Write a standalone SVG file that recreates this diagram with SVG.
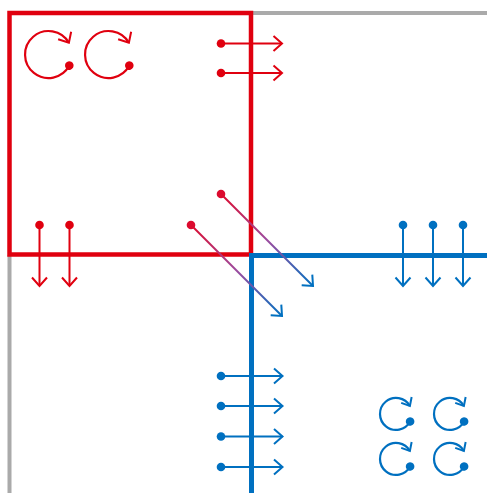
<svg xmlns="http://www.w3.org/2000/svg" width="487" height="493" viewBox="0 0 487 493">
  <style>
    .red { stroke: #e0000f; }
    .blue { stroke: #0070c0; }
    .arrow { fill: none; stroke-width: 2; }
    .rot { fill: none; stroke-width: 2.2; }
  </style>
  <defs>
    <marker id="dotR" markerUnits="userSpaceOnUse" viewBox="-6 -6 12 12" markerWidth="12" markerHeight="12" refX="0" refY="0" orient="auto">
      <circle r="4.3" fill="#e0000f"/>
    </marker>
    <marker id="dotB" markerUnits="userSpaceOnUse" viewBox="-6 -6 12 12" markerWidth="12" markerHeight="12" refX="0" refY="0" orient="auto">
      <circle r="4.3" fill="#0070c0"/>
    </marker>
    <marker id="dotD" markerUnits="userSpaceOnUse" viewBox="-6 -6 12 12" markerWidth="12" markerHeight="12" refX="0" refY="0" orient="auto">
      <circle r="4.3" fill="#dc0a2e"/>
    </marker>
    <marker id="headR" markerUnits="userSpaceOnUse" viewBox="-12 -10 14 20" markerWidth="14" markerHeight="20" refX="0" refY="0" orient="auto">
      <path d="M-8.5,-7.5 L0,0 L-8.5,7.5" fill="none" stroke="#e0000f" stroke-width="2"/>
    </marker>
    <marker id="headB" markerUnits="userSpaceOnUse" viewBox="-12 -10 14 20" markerWidth="14" markerHeight="20" refX="0" refY="0" orient="auto">
      <path d="M-8.5,-7.5 L0,0 L-8.5,7.5" fill="none" stroke="#0070c0" stroke-width="2"/>
    </marker>
    <marker id="headBs" markerUnits="userSpaceOnUse" viewBox="-12 -10 14 20" markerWidth="14" markerHeight="20" refX="0" refY="0" orient="auto">
      <path d="M-7,-6 L0,0 L-7,6" fill="none" stroke="#0070c0" stroke-width="2"/>
    </marker>
    <linearGradient id="diag" x1="0" y1="0" x2="1" y2="1">
      <stop offset="0" stop-color="#dc0a2e"/>
      <stop offset="0.5" stop-color="#9c4a9e"/>
      <stop offset="1" stop-color="#0070c0"/>
    </linearGradient>
  </defs>

  <g id="gray-boundary" fill="none" stroke="#aaaaaa" stroke-width="4">
    <line x1="251" y1="13" x2="487" y2="13"/>
    <line x1="9.5" y1="255" x2="9.5" y2="493"/>
  </g>

  <g id="red-region">
    <rect x="9.5" y="13" width="241.5" height="241.5" fill="none" stroke="#e0000f" stroke-width="4.5"/>
  </g>

  <g id="blue-region">
    <path d="M487,255.5 H251.5 V493" fill="none" stroke="#0070c0" stroke-width="5"/>
  </g>

  <g id="red-rotations" class="rot red">
    <path d="M69.3,65.6 A23.5,23.5 0 1 1 68.9,42.8" marker-start="url(#dotR)" marker-end="url(#headR)"/>
    <path d="M129.3,65.6 A23.5,23.5 0 1 1 128.9,42.8" marker-start="url(#dotR)" marker-end="url(#headR)"/>
  </g>

  <g id="blue-rotations" class="rot blue">
    <path d="M410.1,421.5 A16,16 0 1 1 409.9,406" marker-start="url(#dotB)" marker-end="url(#headBs)"/>
    <path d="M464.1,421.5 A16,16 0 1 1 463.9,406" marker-start="url(#dotB)" marker-end="url(#headBs)"/>
    <path d="M410.1,466.5 A16,16 0 1 1 409.9,451" marker-start="url(#dotB)" marker-end="url(#headBs)"/>
    <path d="M464.1,466.5 A16,16 0 1 1 463.9,451" marker-start="url(#dotB)" marker-end="url(#headBs)"/>
  </g>

  <g id="connectors">
    <g class="arrow red">
      <line x1="221" y1="43.5" x2="282" y2="43.5" marker-start="url(#dotR)" marker-end="url(#headR)"/>
      <line x1="221" y1="73" x2="282" y2="73" marker-start="url(#dotR)" marker-end="url(#headR)"/>
      <line x1="39.5" y1="225" x2="39.5" y2="286" marker-start="url(#dotR)" marker-end="url(#headR)"/>
      <line x1="69.5" y1="225" x2="69.5" y2="286" marker-start="url(#dotR)" marker-end="url(#headR)"/>
    </g>
    <g class="arrow blue">
      <line x1="403" y1="225" x2="403" y2="286" marker-start="url(#dotB)" marker-end="url(#headB)"/>
      <line x1="433" y1="225" x2="433" y2="286" marker-start="url(#dotB)" marker-end="url(#headB)"/>
      <line x1="463" y1="225" x2="463" y2="286" marker-start="url(#dotB)" marker-end="url(#headB)"/>
      <line x1="221" y1="376" x2="282.5" y2="376" marker-start="url(#dotB)" marker-end="url(#headB)"/>
      <line x1="221" y1="406" x2="282.5" y2="406" marker-start="url(#dotB)" marker-end="url(#headB)"/>
      <line x1="221" y1="436.5" x2="282.5" y2="436.5" marker-start="url(#dotB)" marker-end="url(#headB)"/>
      <line x1="221" y1="467" x2="282.5" y2="467" marker-start="url(#dotB)" marker-end="url(#headB)"/>
    </g>
    <g class="arrow" stroke="url(#diag)">
      <line x1="221" y1="194" x2="313" y2="286" marker-start="url(#dotD)" marker-end="url(#headB)"/>
      <line x1="191" y1="225" x2="282" y2="316" marker-start="url(#dotD)" marker-end="url(#headB)"/>
    </g>
  </g>
</svg>
